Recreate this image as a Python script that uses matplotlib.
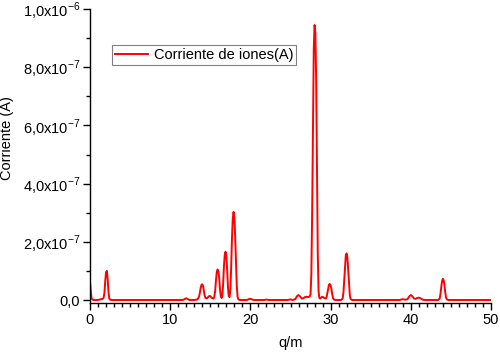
import matplotlib
matplotlib.use("Agg")
import matplotlib.pyplot as plt
from matplotlib.ticker import MultipleLocator, FixedLocator

plt.rcParams['font.family'] = ['Liberation Sans', 'DejaVu Sans']
plt.rcParams['mathtext.fontset'] = 'custom'
plt.rcParams['mathtext.rm'] = 'Liberation Sans'

# q/m values
qm = [0.0, 0.1, 0.2, 0.4, 1.0, 1.4, 1.6, 1.7, 1.8, 1.9, 2.0, 2.1, 2.2, 2.3, 2.4, 2.5, 2.7,
      11.6, 11.8, 12.0, 12.2, 12.4, 13.0, 13.4, 13.6, 13.7, 13.8, 13.9, 14.0, 14.1, 14.2, 14.3,
      14.4, 14.6, 14.8, 14.9, 15.0, 15.2, 15.4, 15.5, 15.6, 15.7, 15.8, 15.9, 16.0, 16.1, 16.2,
      16.3, 16.4, 16.5, 16.6, 16.7, 16.8, 16.9, 17.0, 17.1, 17.2, 17.3, 17.4, 17.5, 17.6, 17.7,
      17.8, 17.9, 18.0, 18.1, 18.2, 18.3, 18.4, 18.5, 18.7, 19.6, 19.8, 20.0, 20.2, 20.4, 21.7,
      22.0, 22.3, 24.6, 25.0, 25.3, 25.6, 25.8, 26.0, 26.2, 26.4, 26.6, 26.8, 27.0, 27.2, 27.4,
      27.5, 27.6, 27.7, 27.8, 27.9, 28.0, 28.1, 28.2, 28.3, 28.4, 28.5, 28.6, 28.7, 28.9, 29.0,
      29.2, 29.4, 29.5, 29.6, 29.7, 29.8, 29.9, 30.0, 30.1, 30.2, 30.3, 30.4, 30.6, 31.3, 31.5,
      31.6, 31.7, 31.8, 31.9, 32.0, 32.1, 32.2, 32.3, 32.4, 32.5, 32.7, 38.6, 39.0, 39.3, 39.6,
      39.8, 40.0, 40.2, 40.4, 40.6, 40.8, 41.0, 41.2, 41.5, 41.8, 43.4, 43.6, 43.7, 43.8, 43.9,
      44.0, 44.1, 44.2, 44.3, 44.4, 44.5, 44.7, 50.0]

# current in units of 1e-7 A
current_e7 = [0.62, 0.3, 0.05, 0.0, 0.0, 0.03, 0.04, 0.08, 0.25, 0.65, 0.95, 1.0, 0.75, 0.3, 0.06, 0.01, 0.0,
              0.0, 0.03, 0.06, 0.03, 0.0, 0.0, 0.02, 0.12, 0.25, 0.42, 0.52, 0.54, 0.48, 0.32, 0.15,
              0.07, 0.06, 0.12, 0.14, 0.13, 0.07, 0.05, 0.1, 0.3, 0.65, 0.95, 1.05, 1.0, 0.78, 0.4,
              0.15, 0.07, 0.15, 0.55, 1.15, 1.55, 1.66, 1.5, 1.05, 0.45, 0.13, 0.1, 0.35, 1.1, 2.1,
              2.8, 3.03, 2.85, 2.2, 1.3, 0.5, 0.12, 0.02, 0.0, 0.0, 0.03, 0.04, 0.02, 0.0, 0.0,
              0.015, 0.0, 0.0, 0.02, 0.0, 0.03, 0.13, 0.17, 0.12, 0.05, 0.06, 0.1, 0.11, 0.1, 0.12,
              0.2, 0.9, 3.0, 6.0, 8.6, 9.45, 9.2, 7.6, 4.6, 1.6, 0.3, 0.07, 0.05, 0.1, 0.11,
              0.07, 0.05, 0.1, 0.25, 0.42, 0.53, 0.55, 0.5, 0.38, 0.2, 0.07, 0.02, 0.0, 0.0, 0.05,
              0.25, 0.7, 1.2, 1.55, 1.6, 1.45, 1.0, 0.5, 0.15, 0.03, 0.0, 0.0, 0.03, 0.01, 0.03,
              0.12, 0.17, 0.13, 0.05, 0.04, 0.07, 0.08, 0.06, 0.01, 0.0, 0.0, 0.05, 0.2, 0.45, 0.65,
              0.73, 0.68, 0.5, 0.25, 0.08, 0.02, 0.0, 0.0]

y_ticks = [0.0, 2e-7, 4e-7, 6e-7, 8e-7, 1e-6]
y_tick_labels = ["0,0", r"2,0x10$^{-7}$", r"4,0x10$^{-7}$", r"6,0x10$^{-7}$",
                 r"8,0x10$^{-7}$", r"1,0x10$^{-6}$"]
x_ticks = [0, 10, 20, 30, 40, 50]

FS = 10.5

fig = plt.figure(figsize=(5.0, 3.52), dpi=100)
ax = fig.add_axes([0.18, 49 / 352, 401 / 500, 294 / 352])

ax.plot(qm, [v * 1e-7 for v in current_e7], color='#ff0000', lw=1.4,
        label='Corriente de iones(A)')

ax.set_xlim(0, 50)
ax.set_ylim(-1.03e-8, 1e-6)
ax.set_xticks(x_ticks)
ax.set_xticklabels([str(t) for t in x_ticks])
ax.xaxis.set_minor_locator(MultipleLocator(1))
ax.set_yticks(y_ticks)
ax.set_yticklabels(y_tick_labels)
ax.yaxis.set_minor_locator(FixedLocator([1e-7, 3e-7, 5e-7, 7e-7, 9e-7]))

for s in ['top', 'right']:
    ax.spines[s].set_visible(False)
for s in ['left', 'bottom']:
    ax.spines[s].set_linewidth(1.0)

ax.tick_params(axis='both', which='major', direction='out', length=5, width=1.0,
               labelsize=FS, pad=2)
ax.tick_params(axis='both', which='minor', direction='out', length=3, width=1.0)

ax.set_xlabel('q/m', fontsize=FS)
ax.xaxis.set_label_coords(0.5, -0.112)
ax.set_ylabel('Corriente (A)', fontsize=FS)
ax.yaxis.set_label_coords(-0.207, 0.56)
ax.yaxis.label.set_va('center')

leg = ax.legend(loc='upper left', bbox_to_anchor=(22 / 401, 1 - 36 / 294), fontsize=FS,
                frameon=True, fancybox=False, framealpha=1, edgecolor='#808080',
                handlelength=2.3, handletextpad=0.35, borderpad=0.2, borderaxespad=0)
leg.get_frame().set_linewidth(0.8)

fig.savefig('out.png', dpi=100)
